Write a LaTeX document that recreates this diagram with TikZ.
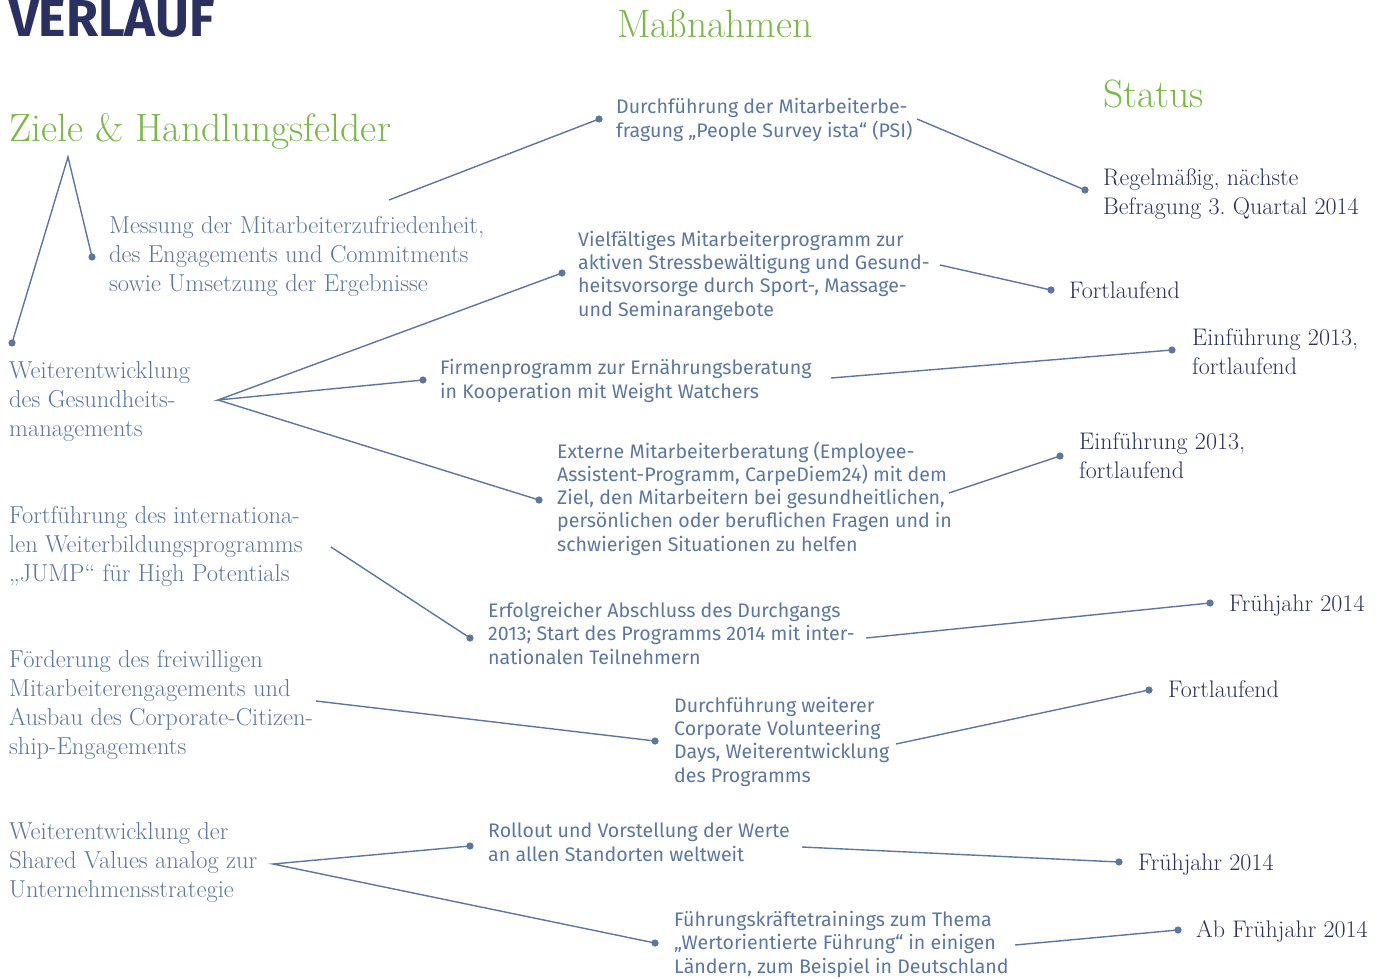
\documentclass[tikz,border=0pt]{standalone}
\usepackage{fontspec}
\newfontfamily\measfont{Fira Sans}
\newfontfamily\headfont{Fira Sans}
\definecolor{navy}{RGB}{42,49,96}
\definecolor{leaf}{RGB}{122,184,72}
\definecolor{slate}{RGB}{91,118,160}
\frenchspacing

\tikzset{
  head/.style={anchor=base west,inner sep=0,text=leaf,font=\fontsize{39.5}{44}\selectfont},
  goal/.style={anchor=base west,inner sep=0,align=left,text=slate,font=\fontsize{24.5}{29}\selectfont},
  meas/.style={anchor=base west,inner sep=0,align=left,text=slate,font=\measfont\fontsize{19.6}{23.2}\selectfont},
  stat/.style={anchor=base west,inner sep=0,align=left,text=navy,font=\fontsize{24}{29}\selectfont},
  conn/.style={draw=slate,line width=1.4pt},
  dot/.style={fill=slate}
}

\begin{document}
\begin{tikzpicture}[x=1pt,y=-1pt]
\useasboundingbox (0,0) rectangle (1386,979);

% headings
\node[anchor=base west,inner sep=0,text=navy,font=\headfont\bfseries\fontsize{52}{52}\selectfont] (verlauf) at (9,37) {VERLAUF};
\node[head] (hmass) at (617,38) {Maßnahmen};
\node[head] (hziele) at (9,142) {Ziele \& Handlungsfelder};
\node[head] (hstat) at (1103,108) {Status};

% goals (placed at baseline of last line)
\node[goal] (g1) at (109,291) {Messung der Mitarbeiterzufriedenheit,\\des Engagements und Commitments\\sowie Umsetzung der Ergebnisse};
\node[goal] (g2) at (9,436) {Weiterentwicklung\\des Gesundheits-\\managements};
\node[goal] (g3) at (9,581) {Fortführung des internationa-\\len Weiterbildungsprogramms\\„JUMP“ für High Potentials};
\node[goal] (g4) at (9,754) {Förderung des freiwilligen\\Mitarbeiterengagements und\\Ausbau des Corporate-Citizen-\\ship-Engagements};
\node[goal] (g5) at (9,897) {Weiterentwicklung der\\Shared Values analog zur\\Unternehmensstrategie};

% measures
\node[meas] (m1) at (616,137) {Durchführung der Mitarbeiterbe-\\fragung „People Survey ista“ (PSI)};
\node[meas] (m2) at (578,316) {Vielfältiges Mitarbeiterprogramm zur\\aktiven Stressbewältigung und Gesund-\\heitsvorsorge durch Sport-, Massage-\\und Seminarangebote};
\node[meas] (m3) at (440,398) {Firmenprogramm zur Ernährungsberatung\\in Kooperation mit Weight Watchers};
\node[meas] (m4) at (557,551) {Externe Mitarbeiterberatung (Employee-\\Assistent-Programm, CarpeDiem24) mit dem\\Ziel, den Mitarbeitern bei gesundheitlichen,\\persönlichen oder beruflichen Fragen und in\\schwierigen Situationen zu helfen};
\node[meas] (m5) at (488,664) {Erfolgreicher Abschluss des Durchgangs\\2013; Start des Programms 2014 mit inter-\\nationalen Teilnehmern};
\node[meas] (m6) at (674,782) {Durchführung weiterer\\Corporate Volunteering\\Days, Weiterentwicklung\\des Programms};
\node[meas] (m7) at (488,861) {Rollout und Vorstellung der Werte\\an allen Standorten weltweit};
\node[meas] (m8) at (674,973) {Führungskräftetrainings zum Thema\\„Wertorientierte Führung“ in einigen\\Ländern, zum Beispiel in Deutschland};

% status
\node[stat] (s1) at (1103,214) {Regelmäßig, nächste\\Befragung 3. Quartal 2014};
\node[stat] (s2) at (1069,298) {Fortlaufend};
\node[stat] (s3) at (1192,374) {Einführung 2013,\\fortlaufend};
\node[stat] (s4) at (1079,478) {Einführung 2013,\\fortlaufend};
\node[stat] (s5) at (1229,611) {Frühjahr 2014};
\node[stat] (s6) at (1168,697) {Fortlaufend};
\node[stat] (s7) at (1138,870) {Frühjahr 2014};
\node[stat] (s8) at (1196,937) {Ab Frühjahr 2014};

% connector ends
\coordinate (zl) at (12,343);
\coordinate (zt) at (68,157);
\coordinate (zr) at (92,257);
\coordinate (g1o) at (389,200);
\coordinate (m1i) at (599,119);
\coordinate (m1o) at (917,119);
\coordinate (s1i) at (1085,190);
\coordinate (g2o) at (218,400);
\coordinate (m2i) at (562,273);
\coordinate (m3i) at (423,380);
\coordinate (m4i) at (539,500);
\coordinate (m2o) at (940,265);
\coordinate (s2i) at (1051,290);
\coordinate (m3o) at (831,378);
\coordinate (s3i) at (1172,350);
\coordinate (m4o) at (949,493);
\coordinate (s4i) at (1060,456);
\coordinate (g3o) at (331,547);
\coordinate (m5i) at (470,638);
\coordinate (m5o) at (866,638);
\coordinate (s5i) at (1210,603);
\coordinate (g4o) at (316,701);
\coordinate (m6i) at (655,741);
\coordinate (m6o) at (896,744);
\coordinate (s6i) at (1149,690);
\coordinate (g5o) at (273,864);
\coordinate (m7i) at (470,846);
\coordinate (m8i) at (655,943);
\coordinate (m7o) at (802,847);
\coordinate (s7i) at (1119,862);
\coordinate (m8o) at (1015,945);
\coordinate (s8i) at (1178,930);

% connectors
\draw[conn] (zl) -- (zt) -- (zr);
\draw[conn] (g1o) -- (m1i);
\draw[conn] (m1o) -- (s1i);
\draw[conn] (m2i) -- (g2o) -- (m3i);
\draw[conn] (g2o) -- (m4i);
\draw[conn] (m2o) -- (s2i);
\draw[conn] (m3o) -- (s3i);
\draw[conn] (m4o) -- (s4i);
\draw[conn] (g3o) -- (m5i);
\draw[conn] (m5o) -- (s5i);
\draw[conn] (g4o) -- (m6i);
\draw[conn] (m6o) -- (s6i);
\draw[conn] (m7i) -- (g5o) -- (m8i);
\draw[conn] (m7o) -- (s7i);
\draw[conn] (m8o) -- (s8i);

% dots
\foreach \p in {zl,zr,m1i,s1i,m2i,m3i,m4i,s2i,s3i,s4i,m5i,s5i,m6i,s6i,m7i,m8i,s7i,s8i}
  \fill[dot] (\p) circle (3.6);
\end{tikzpicture}
\end{document}
